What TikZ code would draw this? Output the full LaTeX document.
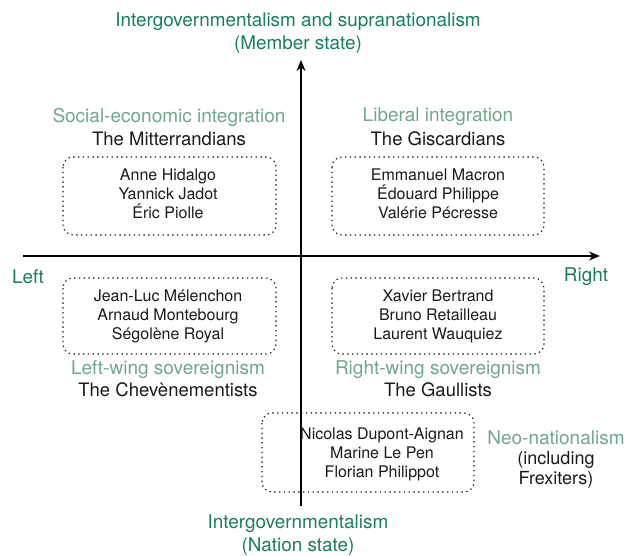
\documentclass[tikz,border=0pt]{standalone}
\usepackage{fontspec}
\setmainfont{TeX Gyre Heros}
\usetikzlibrary{arrows.meta}
\definecolor{axisgreen}{HTML}{1B7D60}
\definecolor{catgreen}{HTML}{72A68F}
\definecolor{txt}{HTML}{1A1A1A}
\tikzset{
  axislabel/.style={text=axisgreen, font=\fontsize{18.9}{23.5}\selectfont, align=center, inner sep=0pt},
  catlabel/.style={text=catgreen, font=\fontsize{19}{22}\selectfont, inner sep=0pt},
  grouplabel/.style={text=txt, font=\fontsize{18.5}{22}\selectfont, inner sep=0pt},
  names/.style={text=txt, font=\fontsize{16}{19}\selectfont, align=center, inner sep=0pt},
  groupbox/.style={draw=txt, line width=1.1pt, dash pattern=on 1.4pt off 3.4pt, rounded corners=10pt},
  axis/.style={draw=black, line width=1.6pt, -{Stealth[length=11pt,width=9pt]}}
}
\begin{document}
\begin{tikzpicture}[x=1pt,y=-1pt]
\useasboundingbox (0,0) rectangle (624,556);
% boxes
\draw[groupbox] (63,157) rectangle (276,235);
\draw[groupbox] (332,157) rectangle (544,235);
\draw[groupbox] (63,278) rectangle (276,354);
\draw[groupbox] (332,278) rectangle (544,354);
\draw[groupbox] (262,413) rectangle (474,492);
% axes
\coordinate (ybot) at (301,506);
\coordinate (ytop) at (301,60);
\coordinate (xleft) at (23,256);
\coordinate (xright) at (600,256);
\draw[axis] (ybot) -- (ytop);
\draw[axis] (xleft) -- (xright);
% axis labels
\node[axislabel] (top) at (298,33) {Intergovernmentalism and supranationalism\\(Member state)};
\node[axislabel] (bottom) at (298,535) {Intergovernmentalism\\(Nation state)};
\node[axislabel] (left) at (28,277) {Left};
\node[axislabel] (right) at (586,277) {Right};
% quadrant labels
\node[catlabel] (c1) at (169,117) {Social-economic integration};
\node[grouplabel] (g1) at (169,139) {The Mitterrandians};
\node[catlabel] (c2) at (438,117) {Liberal integration};
\node[grouplabel] (g2) at (438,139) {The Giscardians};
\node[catlabel] (c3) at (168,370) {Left-wing sovereignism};
\node[grouplabel] (g3) at (168,390) {The Chevènementists};
\node[catlabel] (c4) at (438,370) {Right-wing sovereignism};
\node[grouplabel] (g4) at (438,390) {The Gaullists};
% names
\node[names] (n1) at (168,194) {Anne Hidalgo\\Yannick Jadot\\Éric Piolle};
\node[names] (n2) at (438,194) {Emmanuel Macron\\Édouard Philippe\\Valérie Pécresse};
\node[names] (n3) at (168,316) {Jean-Luc Mélenchon\\Arnaud Montebourg\\Ségolène Royal};
\node[names] (n4) at (438,316) {Xavier Bertrand\\Bruno Retailleau\\Laurent Wauquiez};
\node[names] (n5) at (382,454) {Nicolas Dupont-Aignan\\Marine Le Pen\\Florian Philippot};
% neo-nationalism
\node[catlabel] (c5) at (556,438) {Neo-nationalism};
\node[grouplabel, align=center, font=\fontsize{18}{20}\selectfont] (g5) at (556,470) {(including\\Frexiters)};
\end{tikzpicture}
\end{document}
